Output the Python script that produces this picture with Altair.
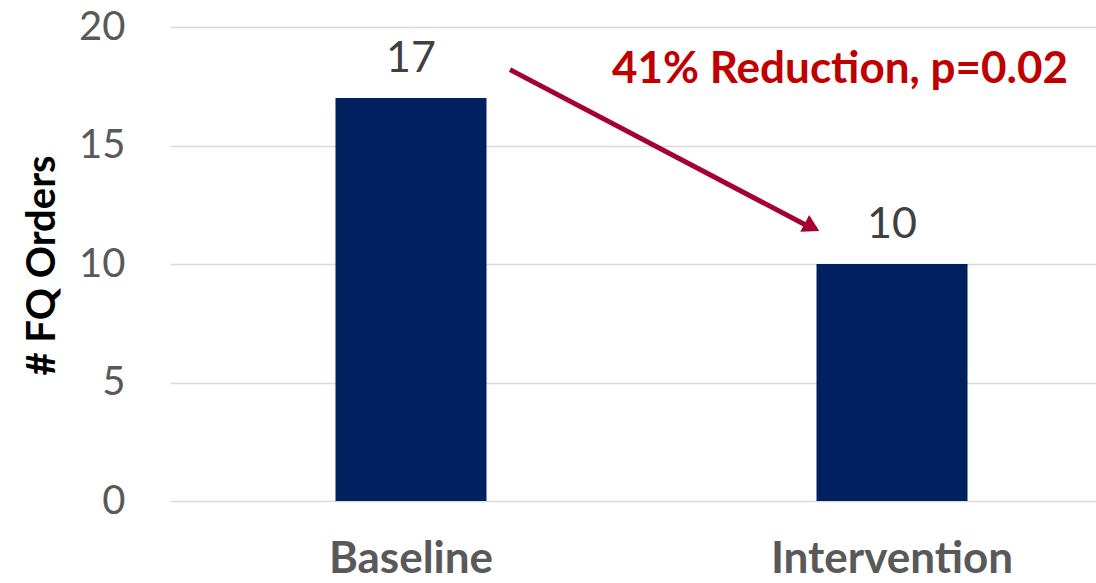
import altair as alt
import pandas as pd

# Bar data
groups = ["Baseline", "Intervention"]
orders = [17, 10]

# Annotation: arrow from above the baseline bar down to the intervention label
arrow_from = ["Baseline"]
arrow_to = ["Intervention"]
arrow_start_value = [18.2]
arrow_end_value = [11.55]
note_text = ["41% Reduction, p=0.02"]
note_value = [18.2]

FONT = "Lato"
GRAY = "#595959"
NAVY = "#002060"
RED = "#C00000"
ARROW = "#A50034"

bars_df = pd.DataFrame({"group": groups, "orders": orders})
arrow_df = pd.DataFrame({"from": arrow_from, "to": arrow_to,
                         "y1": arrow_start_value, "y2": arrow_end_value})
note_df = pd.DataFrame({"group": arrow_to, "text": note_text, "y": note_value})

x_scale = alt.Scale(domain=groups, range=[0, 963], paddingInner=0.686, paddingOuter=0.344)
y_scale = alt.Scale(domain=[0, 20])

x_enc = alt.X("group:N", scale=x_scale, sort=groups,
              axis=alt.Axis(title=None, domain=False, ticks=False, labelAngle=0,
                            labelFont=FONT, labelFontSize=44, labelFontWeight="bold",
                            labelColor=GRAY, labelPadding=36, labelLimit=400))
y_enc = alt.Y("orders:Q", scale=y_scale,
              axis=alt.Axis(values=[0, 5, 10, 15, 20], domain=False, ticks=False,
                            grid=True, gridColor="#d9d9d9", gridWidth=1.5,
                            labelFont=FONT, labelFontSize=40, labelColor=GRAY,
                            labelPadding=45,
                            title="# FQ Orders", titleFont=FONT, titleFontSize=40,
                            titleFontWeight="bold", titleColor="#000000",
                            titleAngle=270, titleX=-128, titleY=238,
                            titleAlign="center", titleBaseline="middle"))

bars = alt.Chart(bars_df).mark_bar(color=NAVY, size=151).encode(x=x_enc, y=y_enc)

values = alt.Chart(bars_df).mark_text(
    font=FONT, fontSize=43, color="#404040", baseline="middle", dy=-39
).encode(x=alt.X("group:N", scale=x_scale, sort=groups), y="orders:Q", text="orders:Q")

arrow_line = alt.Chart(arrow_df).mark_rule(
    color=ARROW, strokeWidth=5, xOffset=99, x2Offset=-82
).encode(
    x=alt.X("from:N", scale=x_scale, sort=groups),
    x2="to:N",
    y=alt.Y("y1:Q", scale=y_scale),
    y2="y2:Q",
)

arrow_head = alt.Chart(arrow_df).mark_point(
    shape="triangle-up", filled=True, color=ARROW, opacity=1,
    size=360, angle=117.7, xOffset=-80
).encode(
    x=alt.X("to:N", scale=x_scale, sort=groups),
    y=alt.Y("y2:Q", scale=y_scale),
)

note = alt.Chart(note_df).mark_text(
    font=FONT, fontSize=44, fontWeight="bold", color=RED,
    align="center", baseline="middle", xOffset=-52
).encode(
    x=alt.X("group:N", scale=x_scale, sort=groups),
    y=alt.Y("y:Q", scale=y_scale),
    text="text:N",
)

chart = alt.layer(bars, values, arrow_line, arrow_head, note).properties(
    width=926, height=474,
    autosize=alt.AutoSizeParams(type="none"),
    padding={"left": 170, "top": 27, "right": 0, "bottom": 82},
    background="white",
).configure_view(stroke=None, strokeWidth=0)

chart.save("out.html", embed_options={"renderer": "svg", "actions": False})
